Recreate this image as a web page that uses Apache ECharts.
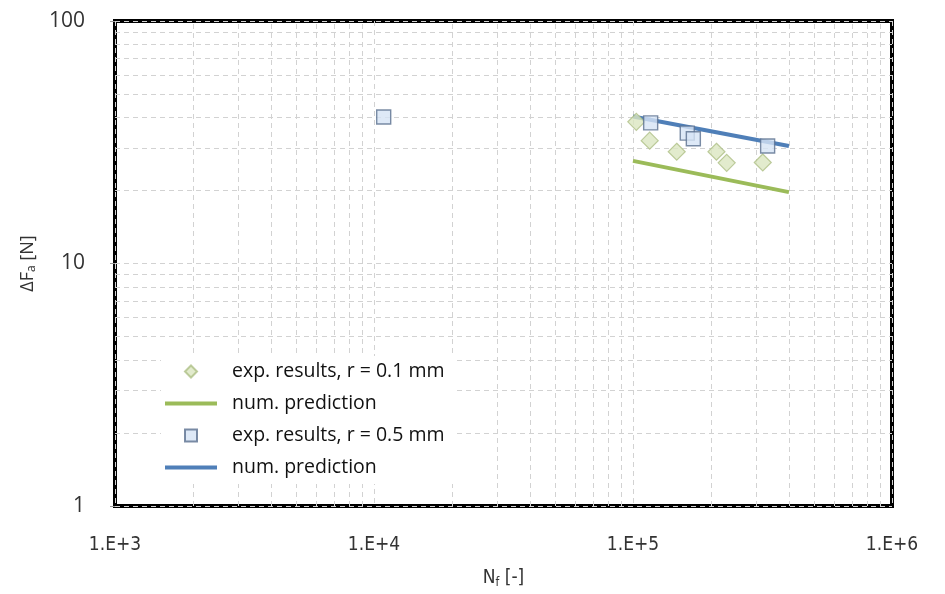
<!DOCTYPE html>
<html>
<head>
<meta charset="utf-8">
<script src="https://cdn.jsdelivr.net/npm/echarts@6/dist/echarts.min.js"></script>
<style>
html,body{margin:0;padding:0;background:#fff;}
#chart{width:945px;height:594px;}
</style>
</head>
<body>
<div id="chart"></div>
<script>
// ---- data ----
const nExp01 = [103000, 116000, 147500, 210000, 230000, 317000];
const fExp01 = [38.4, 32.1, 28.9, 28.9, 26.0, 26.1];
const nNum01 = [100000, 400000];
const fNum01 = [26.5, 19.7];
const nExp05 = [10900, 117000, 162000, 171000, 331000];
const fExp05 = [40.2, 38.0, 34.5, 32.7, 30.5];
const nNum05 = [100000, 400000];
const fNum05 = [40.4, 30.5];
const seriesNames = ['exp. results, r = 0.1 mm', 'num. prediction', 'exp. results, r = 0.5 mm', 'num. prediction '];
const xTickLabels = ['1.E+3', '1.E+4', '1.E+5', '1.E+6'];
const yTickLabels = ['1', '10', '100'];
const xMinorGrid = [2e3,3e3,4e3,5e3,6e3,7e3,8e3,9e3,2e4,3e4,4e4,5e4,6e4,7e4,8e4,9e4,2e5,3e5,4e5,5e5,6e5,7e5,8e5,9e5];
const yMinorGrid = [2,3,4,5,6,7,8,9,20,30,40,50,60,70,80,90];

const zip = (a, b) => a.map((v, i) => [v, b[i]]);

const chart = echarts.init(document.getElementById('chart'), null, {renderer: 'canvas'});
const gridLine = {type: [5, 4], color: '#d2d2d2', width: 1};
const narrow = '"Liberation Sans Narrow", "DejaVu Sans Condensed", sans-serif';
const sans = '"Open Sans", "Noto Sans", sans-serif';

const option = {
  animation: false,
  backgroundColor: '#fff',
  grid: {left: 115, right: 53, top: 21, bottom: 73, show: true, borderColor: '#000', borderWidth: 4, backgroundColor: 'transparent'},
  xAxis: {
    type: 'log', logBase: 10, min: 1000, max: 1000000,
    axisLine: {show: false},
    axisTick: {show: false},
    splitLine: {show: true, lineStyle: gridLine},
    axisLabel: {
      margin: 30, color: '#333', fontSize: 19, fontFamily: narrow,
      formatter: v => xTickLabels[Math.round(Math.log10(v)) - 3]
    },
    name: '{n|N}{s|f}{n| [-]}',
    nameLocation: 'middle', nameGap: 61,
    nameTextStyle: {
      rich: {
        n: {fontSize: 19, color: '#333', fontFamily: narrow},
        s: {fontSize: 12, color: '#333', padding: [10, 0, 0, 0], fontFamily: narrow}
      }
    }
  },
  yAxis: {
    type: 'log', logBase: 10, min: 1, max: 100,
    axisLine: {show: false},
    axisTick: {show: true, length: 5, lineStyle: {color: '#999'}},
    splitLine: {show: true, lineStyle: gridLine},
    axisLabel: {
      margin: 30, color: '#333', fontSize: 21, fontFamily: sans,
      formatter: v => yTickLabels[Math.round(Math.log10(v))]
    },
    name: '{n|ΔF}{s|a}{n| [N]}',
    nameLocation: 'middle', nameGap: 67,
    nameTextStyle: {
      rich: {
        n: {fontSize: 18, color: '#333', fontFamily: sans},
        s: {fontSize: 12, color: '#333', padding: [9, 0, 0, 0], fontFamily: sans}
      }
    }
  },
  legend: {
    data: [
      {name: seriesNames[0], icon: 'path://M5,0L10,5L5,10L0,5Z'},
      {name: seriesNames[1], icon: 'path://M0,0H52V4H0Z'},
      {name: seriesNames[2], icon: 'path://M0,0H10V10H0Z'},
      {name: seriesNames[3], icon: 'path://M0,0H52V4H0Z'}
    ],
    orient: 'vertical',
    left: 161, top: 356, z: 10,
    itemWidth: 52, itemHeight: 12, itemGap: 11,
    symbolKeepAspect: true,
    backgroundColor: '#fff',
    padding: [5, 10, 6, 4],
    textStyle: {fontSize: 19.5, lineHeight: 21, color: '#111', fontFamily: sans, padding: [0, 0, 0, 10]}
  },
  series: [
    {
      type: 'scatter', name: '_grid', data: [], silent: true, z: 0,
      markLine: {
        z: 1, silent: true, symbol: ['none', 'none'], label: {show: false},
        lineStyle: gridLine, animation: false,
        data: xMinorGrid.map(v => ({xAxis: v})).concat(yMinorGrid.map(v => ({yAxis: v})))
      }
    },
    {
      type: 'scatter', name: seriesNames[0], data: zip(nExp01, fExp01),
      symbol: 'diamond', symbolSize: 17, z: 3,
      itemStyle: {color: '#dbe6c0', borderColor: '#aebf86', borderWidth: 1.2}
    },
    {
      type: 'line', name: seriesNames[1], data: zip(nNum01, fNum01),
      symbol: 'none', z: 2,
      lineStyle: {color: '#9bbb59', width: 4},
      itemStyle: {color: '#9bbb59'}
    },
    {
      type: 'scatter', name: seriesNames[2], data: zip(nExp05, fExp05),
      symbol: 'rect', symbolSize: 14, z: 4,
      itemStyle: {color: '#d6e3f5', borderColor: '#5a6f8f', borderWidth: 1.4}
    },
    {
      type: 'line', name: seriesNames[3], data: zip(nNum05, fNum05),
      symbol: 'none', z: 2,
      lineStyle: {color: '#4f7fb8', width: 4},
      itemStyle: {color: '#4f7fb8'}
    }
  ]
};
chart.setOption(option);
</script>
</body>
</html>
